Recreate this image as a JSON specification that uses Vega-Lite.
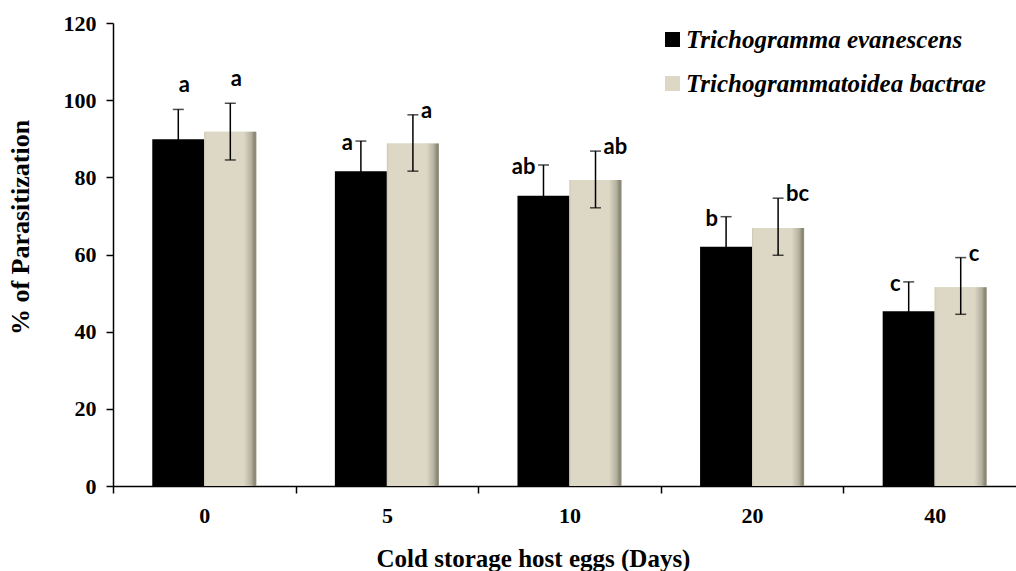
{
  "$schema": "https://vega.github.io/schema/vega-lite/v6.json",
  "width": 903,
  "height": 463,
  "autosize": {"type": "none"},
  "padding": {"left": 113, "top": 23, "right": 0, "bottom": 85},
  "background": "white",
  "config": {"view": {"stroke": null}, "font": "Liberation Serif"},
  "data": {
    "values": [
      {"day": "0", "species": "Trichogramma evanescens", "mean": 89.9, "lower": 82.2, "upper": 97.6, "letter": "a"},
      {"day": "0", "species": "Trichogrammatoidea bactrae", "mean": 91.8, "lower": 84.5, "upper": 99.2, "letter": "a"},
      {"day": "5", "species": "Trichogramma evanescens", "mean": 81.6, "lower": 73.8, "upper": 89.4, "letter": "a"},
      {"day": "5", "species": "Trichogrammatoidea bactrae", "mean": 88.8, "lower": 81.6, "upper": 96.2, "letter": "a"},
      {"day": "10", "species": "Trichogramma evanescens", "mean": 75.2, "lower": 67.2, "upper": 83.2, "letter": "ab"},
      {"day": "10", "species": "Trichogrammatoidea bactrae", "mean": 79.3, "lower": 72.1, "upper": 86.8, "letter": "ab"},
      {"day": "20", "species": "Trichogramma evanescens", "mean": 62.0, "lower": 54.2, "upper": 69.8, "letter": "b"},
      {"day": "20", "species": "Trichogrammatoidea bactrae", "mean": 66.9, "lower": 59.8, "upper": 74.6, "letter": "bc"},
      {"day": "40", "species": "Trichogramma evanescens", "mean": 45.3, "lower": 37.7, "upper": 52.9, "letter": "c"},
      {"day": "40", "species": "Trichogrammatoidea bactrae", "mean": 51.5, "lower": 44.5, "upper": 59.2, "letter": "c"}
    ]
  },
  "encoding": {
    "x": {
      "field": "day",
      "type": "nominal",
      "sort": ["0", "5", "10", "20", "40"],
      "scale": {"range": [0, 913], "paddingInner": 0, "paddingOuter": 0},
      "axis": {
        "title": "Cold storage host eggs (Days)",
        "labelAngle": 0,
        "tickBand": "extent",
        "tickSize": 7,
        "tickWidth": 1.5,
        "tickColor": "black",
        "domainColor": "black",
        "domainWidth": 1.5,
        "grid": false,
        "labelFont": "Liberation Serif",
        "labelFontWeight": "bold",
        "labelFontSize": 22,
        "labelColor": "black",
        "labelPadding": 12,
        "titleFont": "Liberation Serif",
        "titleFontWeight": "bold",
        "titleFontSize": 25,
        "titleColor": "black",
        "titleX": 420,
        "titleY": 72,
        "titleBaseline": "middle",
        "titleAlign": "center"
      }
    },
    "xOffset": {
      "field": "species",
      "type": "nominal",
      "sort": ["Trichogramma evanescens", "Trichogrammatoidea bactrae"],
      "scale": {"paddingOuter": 0.755, "paddingInner": 0}
    }
  },
  "layer": [
    {
      "mark": {"type": "bar"},
      "encoding": {
        "y": {
          "field": "mean",
          "type": "quantitative",
          "title": "% of Parasitization",
          "scale": {"domain": [0, 120], "nice": false},
          "axis": {
            "values": [0, 20, 40, 60, 80, 100, 120],
            "tickSize": 7,
            "tickWidth": 1.5,
            "tickColor": "black",
            "domainColor": "black",
            "domainWidth": 1.5,
            "grid": false,
            "labelFont": "Liberation Serif",
            "labelFontWeight": "bold",
            "labelFontSize": 22,
            "labelColor": "black",
            "labelPadding": 10,
            "titleFont": "Liberation Serif",
            "titleFontWeight": "bold",
            "titleFontSize": 26,
            "titleColor": "black",
            "titleX": -93,
            "titleY": 204,
            "titleAngle": 270,
            "titleBaseline": "middle",
            "titleAlign": "center"
          }
        },
        "color": {
          "field": "species",
          "type": "nominal",
          "sort": ["Trichogramma evanescens", "Trichogrammatoidea bactrae"],
          "scale": {"range": ["#000000", "#DDD8C5"]},
          "legend": {
            "orient": "none",
            "legendX": 547,
            "legendY": 4,
            "title": null,
            "direction": "vertical",
            "symbolType": "square",
            "symbolSize": 225,
            "symbolStrokeWidth": 0,
            "labelFont": "Liberation Serif",
            "labelFontSize": 25,
            "labelFontWeight": "bold",
            "labelFontStyle": "italic",
            "labelColor": "black",
            "labelOffset": 1,
            "labelLimit": 400,
            "rowPadding": 18
          }
        }
      }
    },
    {
      "transform": [{"filter": "datum.species == 'Trichogrammatoidea bactrae'"}],
      "mark": {
        "type": "bar",
        "color": {
          "gradient": "linear",
          "x1": 0, "y1": 0, "x2": 1, "y2": 0,
          "stops": [
            {"offset": 0, "color": "#CFCAB6"},
            {"offset": 0.04, "color": "#DDD8C5"},
            {"offset": 0.76, "color": "#DDD8C5"},
            {"offset": 0.9, "color": "#B5B1A0"},
            {"offset": 0.97, "color": "#86836F"},
            {"offset": 1, "color": "#9A9788"}
          ]
        }
      },
      "encoding": {
        "y": {"field": "mean", "type": "quantitative", "title": "% of Parasitization"}
      }
    },
    {
      "mark": {"type": "rule", "strokeWidth": 1.5, "color": "black"},
      "encoding": {
        "y": {"field": "lower", "type": "quantitative", "title": "% of Parasitization"},
        "y2": {"field": "upper"}
      }
    },
    {
      "mark": {"type": "tick", "thickness": 1.5, "size": 11, "color": "black", "orient": "horizontal"},
      "encoding": {
        "y": {"field": "upper", "type": "quantitative", "title": "% of Parasitization"}
      }
    },
    {
      "mark": {"type": "tick", "thickness": 1.5, "size": 11, "color": "black", "orient": "horizontal"},
      "encoding": {
        "y": {"field": "lower", "type": "quantitative", "title": "% of Parasitization"}
      }
    },
    {
      "transform": [{"filter": "datum.day == '0'"}],
      "mark": {"type": "text", "font": "Lato", "fontWeight": "bold", "fontSize": 22, "color": "black", "align": "center", "baseline": "middle", "dx": 6, "dy": -24},
      "encoding": {
        "y": {"field": "upper", "type": "quantitative", "title": "% of Parasitization"},
        "text": {"field": "letter"}
      }
    },
    {
      "transform": [{"filter": "datum.day != '0' && datum.species == 'Trichogramma evanescens'"}],
      "mark": {"type": "text", "font": "Lato", "fontWeight": "bold", "fontSize": 22, "color": "black", "align": "right", "baseline": "middle", "dx": -8, "dy": 2},
      "encoding": {
        "y": {"field": "upper", "type": "quantitative", "title": "% of Parasitization"},
        "text": {"field": "letter"}
      }
    },
    {
      "transform": [{"filter": "datum.day != '0' && datum.species == 'Trichogrammatoidea bactrae'"}],
      "mark": {"type": "text", "font": "Lato", "fontWeight": "bold", "fontSize": 22, "color": "black", "align": "left", "baseline": "middle", "dx": 8, "dy": -4},
      "encoding": {
        "y": {"field": "upper", "type": "quantitative", "title": "% of Parasitization"},
        "text": {"field": "letter"}
      }
    }
  ]
}
